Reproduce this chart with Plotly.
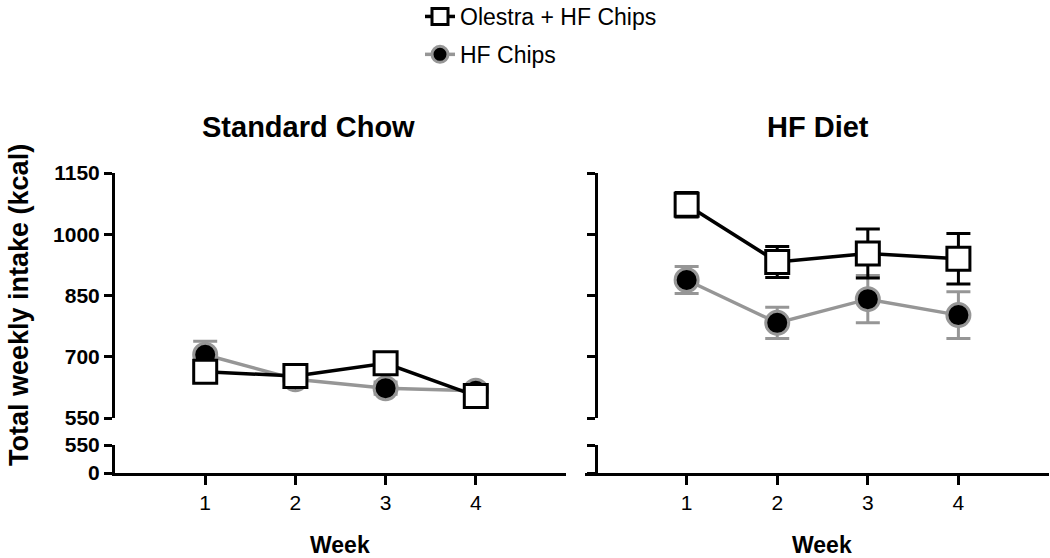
import plotly.graph_objects as go

W, H = 1050, 558

weeks = [1, 2, 3, 4]
# Standard Chow panel
chow_olestra = [663, 653, 684, 604]
chow_olestra_err = [22, 15, 15, 12]
chow_hf = [705, 645, 623, 617]
chow_hf_err = [33, 15, 15, 12]
# HF Diet panel
hfd_olestra = [1072, 932, 953, 940]
hfd_olestra_err = [30, 38, 60, 62]
hfd_hf = [888, 783, 841, 802]
hfd_hf_err = [33, 38, 58, 57]

upper_ticks = [550, 700, 850, 1000, 1150]
lower_ticks = [0, 550]
week_ticks = [1, 2, 3, 4]

BLACK = "#000000"
GRAY = "#969696"
FONT = "Liberation Sans, Arial, Helvetica, sans-serif"


def px_x(x):
    return x / W


def px_y(y):
    return 1 - y / H


fig = go.Figure()


def add_panel(xa, ya, olestra, olestra_err, hf, hf_err, show_legend):
    fig.add_trace(go.Scatter(
        x=weeks, y=hf, mode="lines+markers", name="HF Chips",
        xaxis=xa, yaxis=ya, showlegend=show_legend, legendrank=2,
        legendgroup="b",
        line=dict(color=GRAY, width=3.5),
        marker=dict(symbol="circle", size=23, color=BLACK,
                    line=dict(color=GRAY, width=3)),
        error_y=dict(type="data", array=hf_err, visible=True,
                     color=GRAY, thickness=3, width=12),
    ))
    fig.add_trace(go.Scatter(
        x=weeks, y=olestra, mode="lines+markers", name="Olestra + HF Chips",
        xaxis=xa, yaxis=ya, showlegend=show_legend, legendrank=1,
        legendgroup="a",
        line=dict(color=BLACK, width=3.5),
        marker=dict(symbol="square", size=23, color="white",
                    line=dict(color=BLACK, width=3)),
        error_y=dict(type="data", array=olestra_err, visible=True,
                     color=BLACK, thickness=3, width=12),
    ))


# empty traces so the lower (broken-axis) segments are drawn
for xa, ya in (("x", "y"), ("x3", "y3")):
    fig.add_trace(go.Scatter(x=[], y=[], xaxis=xa, yaxis=ya,
                             showlegend=False, hoverinfo="skip"))

add_panel("x2", "y2", chow_olestra, chow_olestra_err, chow_hf, chow_hf_err, True)
add_panel("x4", "y4", hfd_olestra, hfd_olestra_err, hfd_hf, hfd_hf_err, False)

# pixel geometry
L_AX, L_END = 115, 566          # left panel y-axis / x-axis end
R_AX, R_START, R_END = 596, 585, 1049   # right panel y-axis, x-line start, end
PX_PER_WEEK = (L_END - L_AX) / 5.0

left_dom = [px_x(L_AX), px_x(L_END)]
right_dom = [px_x(R_START), px_x(R_END)]
right_range = [-(R_AX - R_START) / PX_PER_WEEK, 5]
lower_dom = [px_y(473), px_y(445)]
upper_dom = [px_y(418), px_y(173)]

tickfont_b = dict(family=FONT, size=21, color=BLACK, weight="bold")
tickfont_n = dict(family=FONT, size=21, color=BLACK)

common_y = dict(showline=True, linewidth=3, linecolor=BLACK, ticks="outside",
                ticklen=8, tickwidth=3, tickcolor=BLACK, showgrid=False,
                zeroline=False, fixedrange=True, automargin=False)
common_x = dict(showgrid=False, zeroline=False, automargin=False)
xline = dict(showline=True, linewidth=3, linecolor=BLACK, ticks="outside",
             ticklen=9, tickwidth=3, tickcolor=BLACK, tickvals=week_ticks,
             tickfont=tickfont_n)

fig.update_layout(
    template="none",
    width=W, height=H,
    margin=dict(l=0, r=0, t=0, b=0, pad=0, autoexpand=False),
    paper_bgcolor="white", plot_bgcolor="white",
    showlegend=True,
    legend=dict(x=px_x(420), y=px_y(-5), xanchor="left", yanchor="top",
                font=dict(family=FONT, size=23, color=BLACK),
                tracegroupgap=5, traceorder="grouped",
                bgcolor="rgba(0,0,0,0)", itemsizing="trace"),
    # left lower
    xaxis=dict(domain=left_dom, anchor="y", range=[0, 5], **xline, **common_x),
    yaxis=dict(domain=lower_dom, anchor="x", range=[0, 550],
               tickvals=lower_ticks, tickfont=tickfont_b, **common_y),
    # left upper
    xaxis2=dict(domain=left_dom, anchor="y2", visible=False, range=[0, 5],
                **common_x),
    yaxis2=dict(domain=upper_dom, anchor="x2", range=[550, 1150],
                tickvals=upper_ticks, tickfont=tickfont_b, **common_y),
    # right lower
    xaxis3=dict(domain=right_dom, anchor="y3", range=right_range, **xline,
                **common_x),
    yaxis3=dict(domain=lower_dom, anchor="free", position=px_x(R_AX),
                range=[0, 550], tickvals=lower_ticks,
                showticklabels=False, **common_y),
    # right upper
    xaxis4=dict(domain=right_dom, anchor="y4", visible=False,
                range=right_range, **common_x),
    yaxis4=dict(domain=upper_dom, anchor="free", position=px_x(R_AX),
                range=[550, 1150], tickvals=upper_ticks,
                showticklabels=False, **common_y),
)

annots = [
    dict(text="Standard Chow", x=px_x(308), y=px_y(127), size=29, bold=True),
    dict(text="HF Diet", x=px_x(818), y=px_y(127), size=29, bold=True),
    dict(text="Week", x=px_x(340), y=px_y(545), size=23, bold=True),
    dict(text="Week", x=px_x(822), y=px_y(545), size=23, bold=True),
]
for a in annots:
    fig.add_annotation(
        text=a["text"], x=a["x"], y=a["y"], xref="paper", yref="paper",
        xanchor="center", yanchor="middle", showarrow=False,
        font=dict(family=FONT, size=a["size"], color=BLACK,
                  weight="bold" if a["bold"] else "normal"),
    )
fig.add_annotation(
    text="Total weekly intake (kcal)", x=px_x(19), y=px_y(305),
    xref="paper", yref="paper", xanchor="center", yanchor="middle",
    showarrow=False, textangle=-90,
    font=dict(family=FONT, size=27, color=BLACK, weight="bold"),
)

fig.write_html("out.html",
               config={"displayModeBar": False},
               post_script="document.body.style.margin='0';"
                           "document.body.style.overflow='hidden';")
